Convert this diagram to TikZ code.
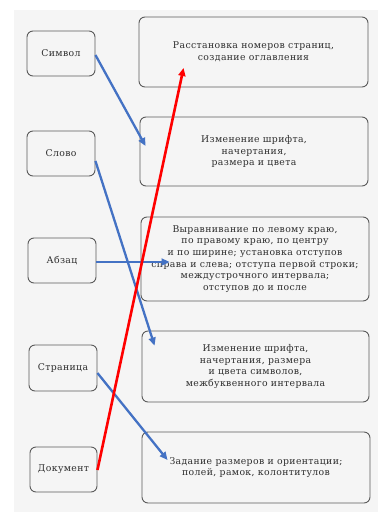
\documentclass[tikz,border=0pt]{standalone}
\usepackage{fontspec}
\setmainfont{DejaVu Serif}
\usetikzlibrary{arrows.meta,calc}
\definecolor{panel}{HTML}{F5F5F5}
\definecolor{boxline}{HTML}{5A5A5A}
\definecolor{txt}{HTML}{2E2E2E}
\definecolor{arrblue}{HTML}{4472C4}
\definecolor{arrred}{HTML}{FF0000}
\tikzset{
  box/.style={draw=boxline, line width=0.9pt, rounded corners=6pt, fill=panel, inner sep=0pt, align=center, text=txt, font=\fontsize{9.3}{11.7}\selectfont\addfontfeatures{LetterSpace=4}},
  bluearr/.style={draw=arrblue, line width=2.3pt, -{Triangle[length=8pt,width=7pt]}},
  redarr/.style={draw=arrred, line width=2.6pt, -{Triangle[length=8pt,width=7pt]}},
}
\begin{document}
\begin{tikzpicture}[x=1pt,y=-1pt]
\useasboundingbox (0,0) rectangle (383,512);
\fill[panel] (14,10) rectangle (378,512);
% left boxes
\node[box, minimum width=68pt, minimum height=45pt] (sym) at (61,53.5) {Символ};
\node[box, minimum width=68pt, minimum height=45pt] (word) at (61,153.5) {Слово};
\node[box, minimum width=68pt, minimum height=45pt] (par) at (62,260.5) {Абзац};
\node[box, minimum width=68pt, minimum height=46pt] (page) at (63,368) {Страница};
\node[box, minimum width=67pt, minimum height=45pt] (doc) at (63.5,469.5) {Документ};
% right boxes
\node[box, minimum width=229pt, minimum height=70pt] (r1) at (253.5,52) {Расстановка номеров страниц,\\создание оглавления};
\node[box, minimum width=228pt, minimum height=69pt] (r2) at (254,151.5) {Изменение шрифта,\\начертания,\\размера и цвета};
\node[box, minimum width=228pt, minimum height=84pt] (r3) at (255,259) {Выравнивание по левому краю,\\по правому краю, по центру\\и по ширине; установка отступов\\справа и слева; отступа первой строки;\\междустрочного интервала;\\отступов до и после};
\node[box, minimum width=227pt, minimum height=71pt] (r4) at (255.5,366.5) {Изменение шрифта,\\начертания, размера\\и цвета символов,\\межбуквенного интервала};
\node[box, minimum width=228pt, minimum height=71pt] (r5) at (256,467.5) {Задание размеров и ориентации;\\полей, рамок, колонтитулов};
% connectors
\coordinate (t2) at ($(r2.west)+(6,-5.5)$);
\coordinate (t4) at ($(r4.north west)+(13,15)$);
\coordinate (t3) at ($(r3.west)+(29,3)$);
\coordinate (t5) at ($(r5.west)+(26,-7.5)$);
\coordinate (t1) at ($(r1.west)+(45,16)$);
\draw[bluearr] ($(sym.east)+(0,1.5)$) -- (t2);
\draw[bluearr] ($(word.east)+(0,7.5)$) -- (t4);
\draw[bluearr] ($(par.east)+(0,1.5)$) -- (t3);
\draw[bluearr] ($(page.east)+(0,5)$) -- (t5);
\draw[redarr] ($(doc.east)+(0,0.5)$) -- (t1);
\end{tikzpicture}
\end{document}
